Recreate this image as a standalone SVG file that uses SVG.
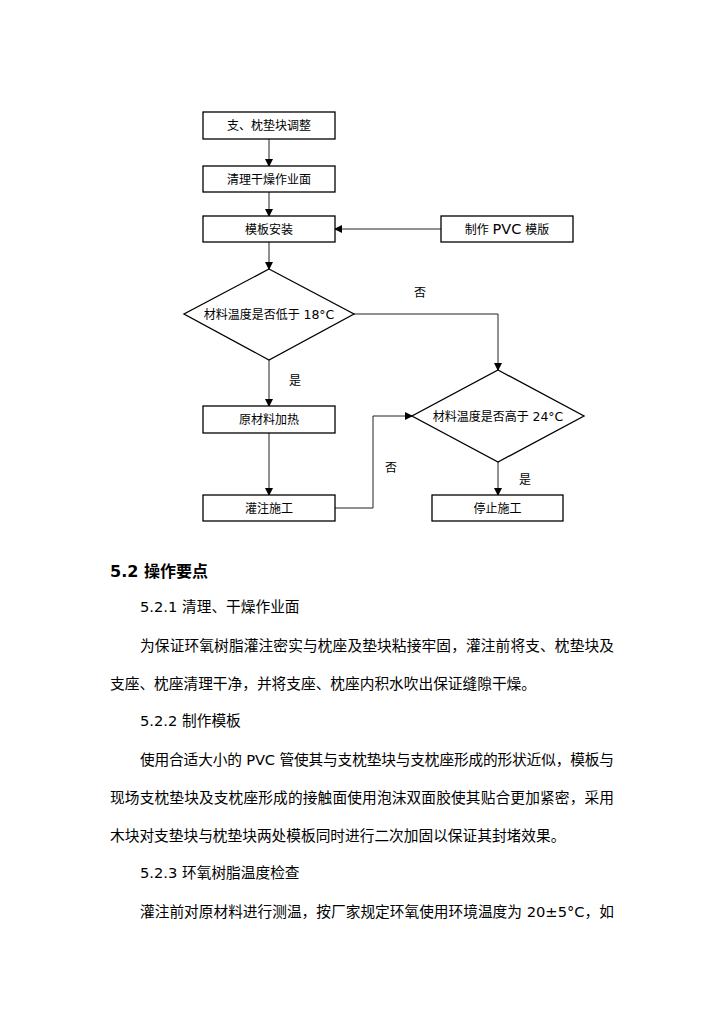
<svg xmlns="http://www.w3.org/2000/svg" width="724" height="1024" viewBox="0 0 724 1024">
<defs>
<marker id="arr" markerWidth="8" markerHeight="8" refX="7" refY="4" orient="auto" markerUnits="userSpaceOnUse">
<path d="M0,0 L8,4 L0,8 Z" fill="#000"/>
</marker>
<style>
.box{fill:#fff;stroke:#000;stroke-width:1.3}
.fc{font-family:"DejaVu Sans","Noto Sans CJK SC",sans-serif;font-size:12px;fill:#000;text-anchor:middle}
.lb{font-family:"DejaVu Sans","Noto Sans CJK SC",sans-serif;font-size:12px;fill:#000;text-anchor:middle}
.con{fill:none;stroke:#222;stroke-width:1;marker-end:url(#arr)}
.tx{font-family:"DejaVu Sans","Noto Sans CJK SC",sans-serif;font-size:14.7px;fill:#000}
.hd{font-family:"DejaVu Sans","Noto Sans CJK SC",sans-serif;font-size:16px;font-weight:bold;fill:#000}
</style>
</defs>
<rect width="724" height="1024" fill="#fff"/>
<g id="connectors">
<path class="con" d="M269,139 V166"/>
<path class="con" d="M269,192 V216"/>
<path class="con" d="M441,229 H335"/>
<path class="con" d="M269,242 V269"/>
<path class="con" d="M354,314 H498 V370"/>
<path class="con" d="M269,360 V406"/>
<path class="con" d="M269,433 V495"/>
<path class="con" d="M335,508 H373 V416 H412"/>
<path class="con" d="M498,462 V495"/>
</g>
<g id="labels">
<text class="lb" x="420" y="297">否</text>
<text class="lb" x="295" y="385">是</text>
<text class="lb" x="391" y="472">否</text>
<text class="lb" x="525" y="484">是</text>
</g>
<g id="n1"><rect class="box" x="203" y="112" width="132" height="27"/><text class="fc" x="269" y="130">支、枕垫块调整</text></g>
<g id="n2"><rect class="box" x="203" y="166" width="132" height="26"/><text class="fc" x="269" y="183.5">清理干燥作业面</text></g>
<g id="n3"><rect class="box" x="203" y="216" width="132" height="26"/><text class="fc" x="269" y="233.5">模板安装</text></g>
<g id="n4"><rect class="box" x="441" y="216" width="132" height="26"/><text class="fc" x="507" y="234">制作 <tspan font-size="14.5px">PVC</tspan> 模版</text></g>
<g id="d1"><polygon class="box" points="269,269 354,314 269,360 184,314"/><text class="fc" x="269" y="318.5">材料温度是否低于 <tspan font-size="12.5px">18°C</tspan></text></g>
<g id="n5"><rect class="box" x="203" y="406" width="132" height="27"/><text class="fc" x="269" y="424">原材料加热</text></g>
<g id="d2"><polygon class="box" points="498,370 584,416 498,462 412,416"/><text class="fc" x="498" y="420.5">材料温度是否高于 <tspan font-size="12.5px">24°C</tspan></text></g>
<g id="n6"><rect class="box" x="203" y="495" width="132" height="26"/><text class="fc" x="269" y="512.5">灌注施工</text></g>
<g id="n7"><rect class="box" x="432" y="495" width="131" height="26"/><text class="fc" x="497.5" y="512.5">停止施工</text></g>
<g id="body">
<text class="hd" x="110" y="577">5.2 操作要点</text>
<text class="tx" x="140" y="612">5.2.1 清理、干燥作业面</text>
<text class="tx" x="140" y="651" textLength="474" lengthAdjust="spacing">为保证环氧树脂灌注密实与枕座及垫块粘接牢固，灌注前将支、枕垫块及</text>
<text class="tx" x="110" y="689">支座、枕座清理干净，并将支座、枕座内积水吹出保证缝隙干燥。</text>
<text class="tx" x="140" y="726">5.2.2 制作模板</text>
<text class="tx" x="140" y="765" textLength="474" lengthAdjust="spacing">使用合适大小的 PVC 管使其与支枕垫块与支枕座形成的形状近似，模板与</text>
<text class="tx" x="110" y="803" textLength="504" lengthAdjust="spacing">现场支枕垫块及支枕座形成的接触面使用泡沫双面胶使其贴合更加紧密，采用</text>
<text class="tx" x="110" y="841">木块对支垫块与枕垫块两处模板同时进行二次加固以保证其封堵效果。</text>
<text class="tx" x="140" y="878">5.2.3 环氧树脂温度检查</text>
<text class="tx" x="140" y="917" textLength="474" lengthAdjust="spacing">灌注前对原材料进行测温，按厂家规定环氧使用环境温度为 20±5°C，如</text>
</g>
</svg>
